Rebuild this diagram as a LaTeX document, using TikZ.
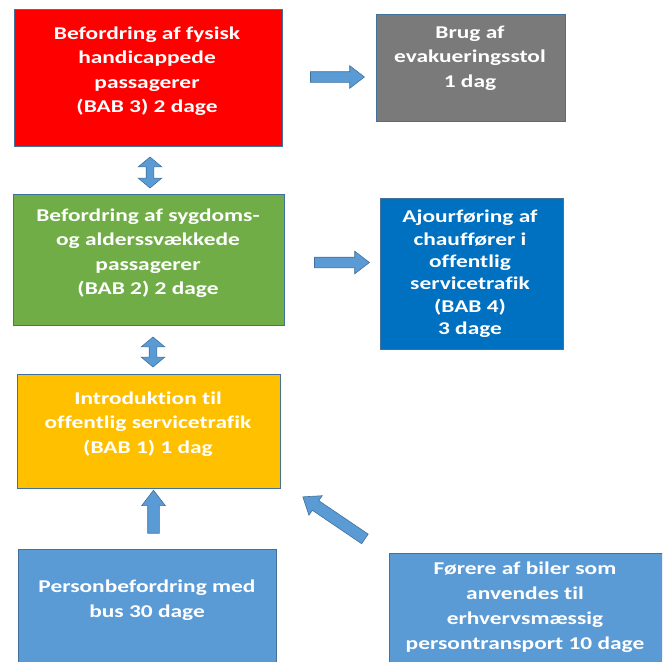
\documentclass[tikz,border=0pt]{standalone}
\usepackage{fontspec}
\setmainfont{Carlito}[Ligatures=CommonOff,FakeStretch=1.3]
\usetikzlibrary{shapes.arrows}
\definecolor{cRed}{HTML}{FF0000}
\definecolor{cGray}{HTML}{7A7A7A}
\definecolor{cGreen}{HTML}{70AD47}
\definecolor{cBlue}{HTML}{0070C0}
\definecolor{cYellow}{HTML}{FFC000}
\definecolor{cLight}{HTML}{5B9BD5}
\definecolor{cEdge}{HTML}{41719C}
\begin{document}
\begin{tikzpicture}[x=1pt,y=-1pt,
  box/.style={draw=cEdge,line width=0.8pt,inner sep=0pt,outer sep=0pt},
  txt/.style={text=white,font=\bfseries\fontsize{18}{24.5}\selectfont,align=center,inner sep=0pt},
  sarrow/.style={single arrow,fill=cLight,draw=cEdge,line width=0.6pt,outer sep=0pt,
    inner xsep=0pt,single arrow tip angle=75},
  darrow/.style={double arrow,fill=cLight,draw=cEdge,line width=0.6pt,outer sep=0pt,
    inner xsep=0pt,double arrow tip angle=100}]
\useasboundingbox (0,0) rectangle (662,662);
\clip (0,0) rectangle (662,662);
\fill[white] (0,0) rectangle (662,662);
% boxes
\node[box,fill=cRed,minimum width=268pt,minimum height=137pt] (bab3) at (148,77.5) {};
\node[box,fill=cGray,minimum width=189pt,minimum height=107pt] (evak) at (470.5,67.5) {};
\node[box,fill=cGreen,minimum width=271pt,minimum height=131pt] (bab2) at (148.5,259.5) {};
\node[box,fill=cBlue,minimum width=183pt,minimum height=151pt] (bab4) at (471.5,273.5) {};
\node[box,fill=cYellow,minimum width=263pt,minimum height=114pt] (bab1) at (148.5,431) {};
\node[box,fill=cLight,minimum width=258pt,minimum height=118pt] (bus) at (147,608) {};
\node[box,fill=cLight,minimum width=278pt,minimum height=114pt] (bil) at (528,610) {};
% texts
\node[txt] (t3) at (147,71) {Befordring af fysisk\\handicappede\\passagerer\\(BAB 3) 2 dage};
\node[txt] (te) at (470,58) {Brug af\\evakueringsstol\\1 dag};
\node[txt] (t2) at (148,253) {Befordring af sygdoms-\\og alderssvækkede\\passagerer\\(BAB 2) 2 dage};
\node[txt,font=\bfseries\fontsize{18}{22.4}\selectfont] (t4) at (470,274) {Ajourføring af\\chauffører i\\offentlig\\servicetrafik\\(BAB 4)\\3 dage};
\node[txt] (t1) at (148,424) {Introduktion til\\offentlig servicetrafik\\(BAB 1) 1 dag};
\node[txt,font=\bfseries\fontsize{18}{25}\selectfont] (tb) at (147,600) {Personbefordring med\\bus 30 dage};
\node[txt,font=\bfseries\fontsize{18}{25}\selectfont] (tf) at (525,607) {Førere af biler som\\anvendes til\\erhvervsmæssig\\persontransport 10 dage};
% arrows
\node[sarrow,inner ysep=5pt,minimum height=54pt,single arrow head extend=6pt] (a1) at (334,77) {};
\node[sarrow,inner ysep=5pt,minimum height=55pt,single arrow head extend=6pt] (a2) at (338.5,262.5) {};
\node[darrow,rotate=90,inner ysep=3.5pt,minimum height=31pt,double arrow head extend=8pt] (d1) at (150,172.5) {};
\node[darrow,rotate=90,inner ysep=3.5pt,minimum height=30pt,double arrow head extend=8pt] (d2) at (153,352) {};
\node[sarrow,rotate=90,inner ysep=5.5pt,minimum height=43pt,single arrow head extend=6pt] (a3) at (153.5,515.5) {};
\node[sarrow,rotate=145.9,inner ysep=5.5pt,minimum height=75pt,single arrow head extend=6pt] (a4) at (337,520) {};
\end{tikzpicture}
\end{document}
